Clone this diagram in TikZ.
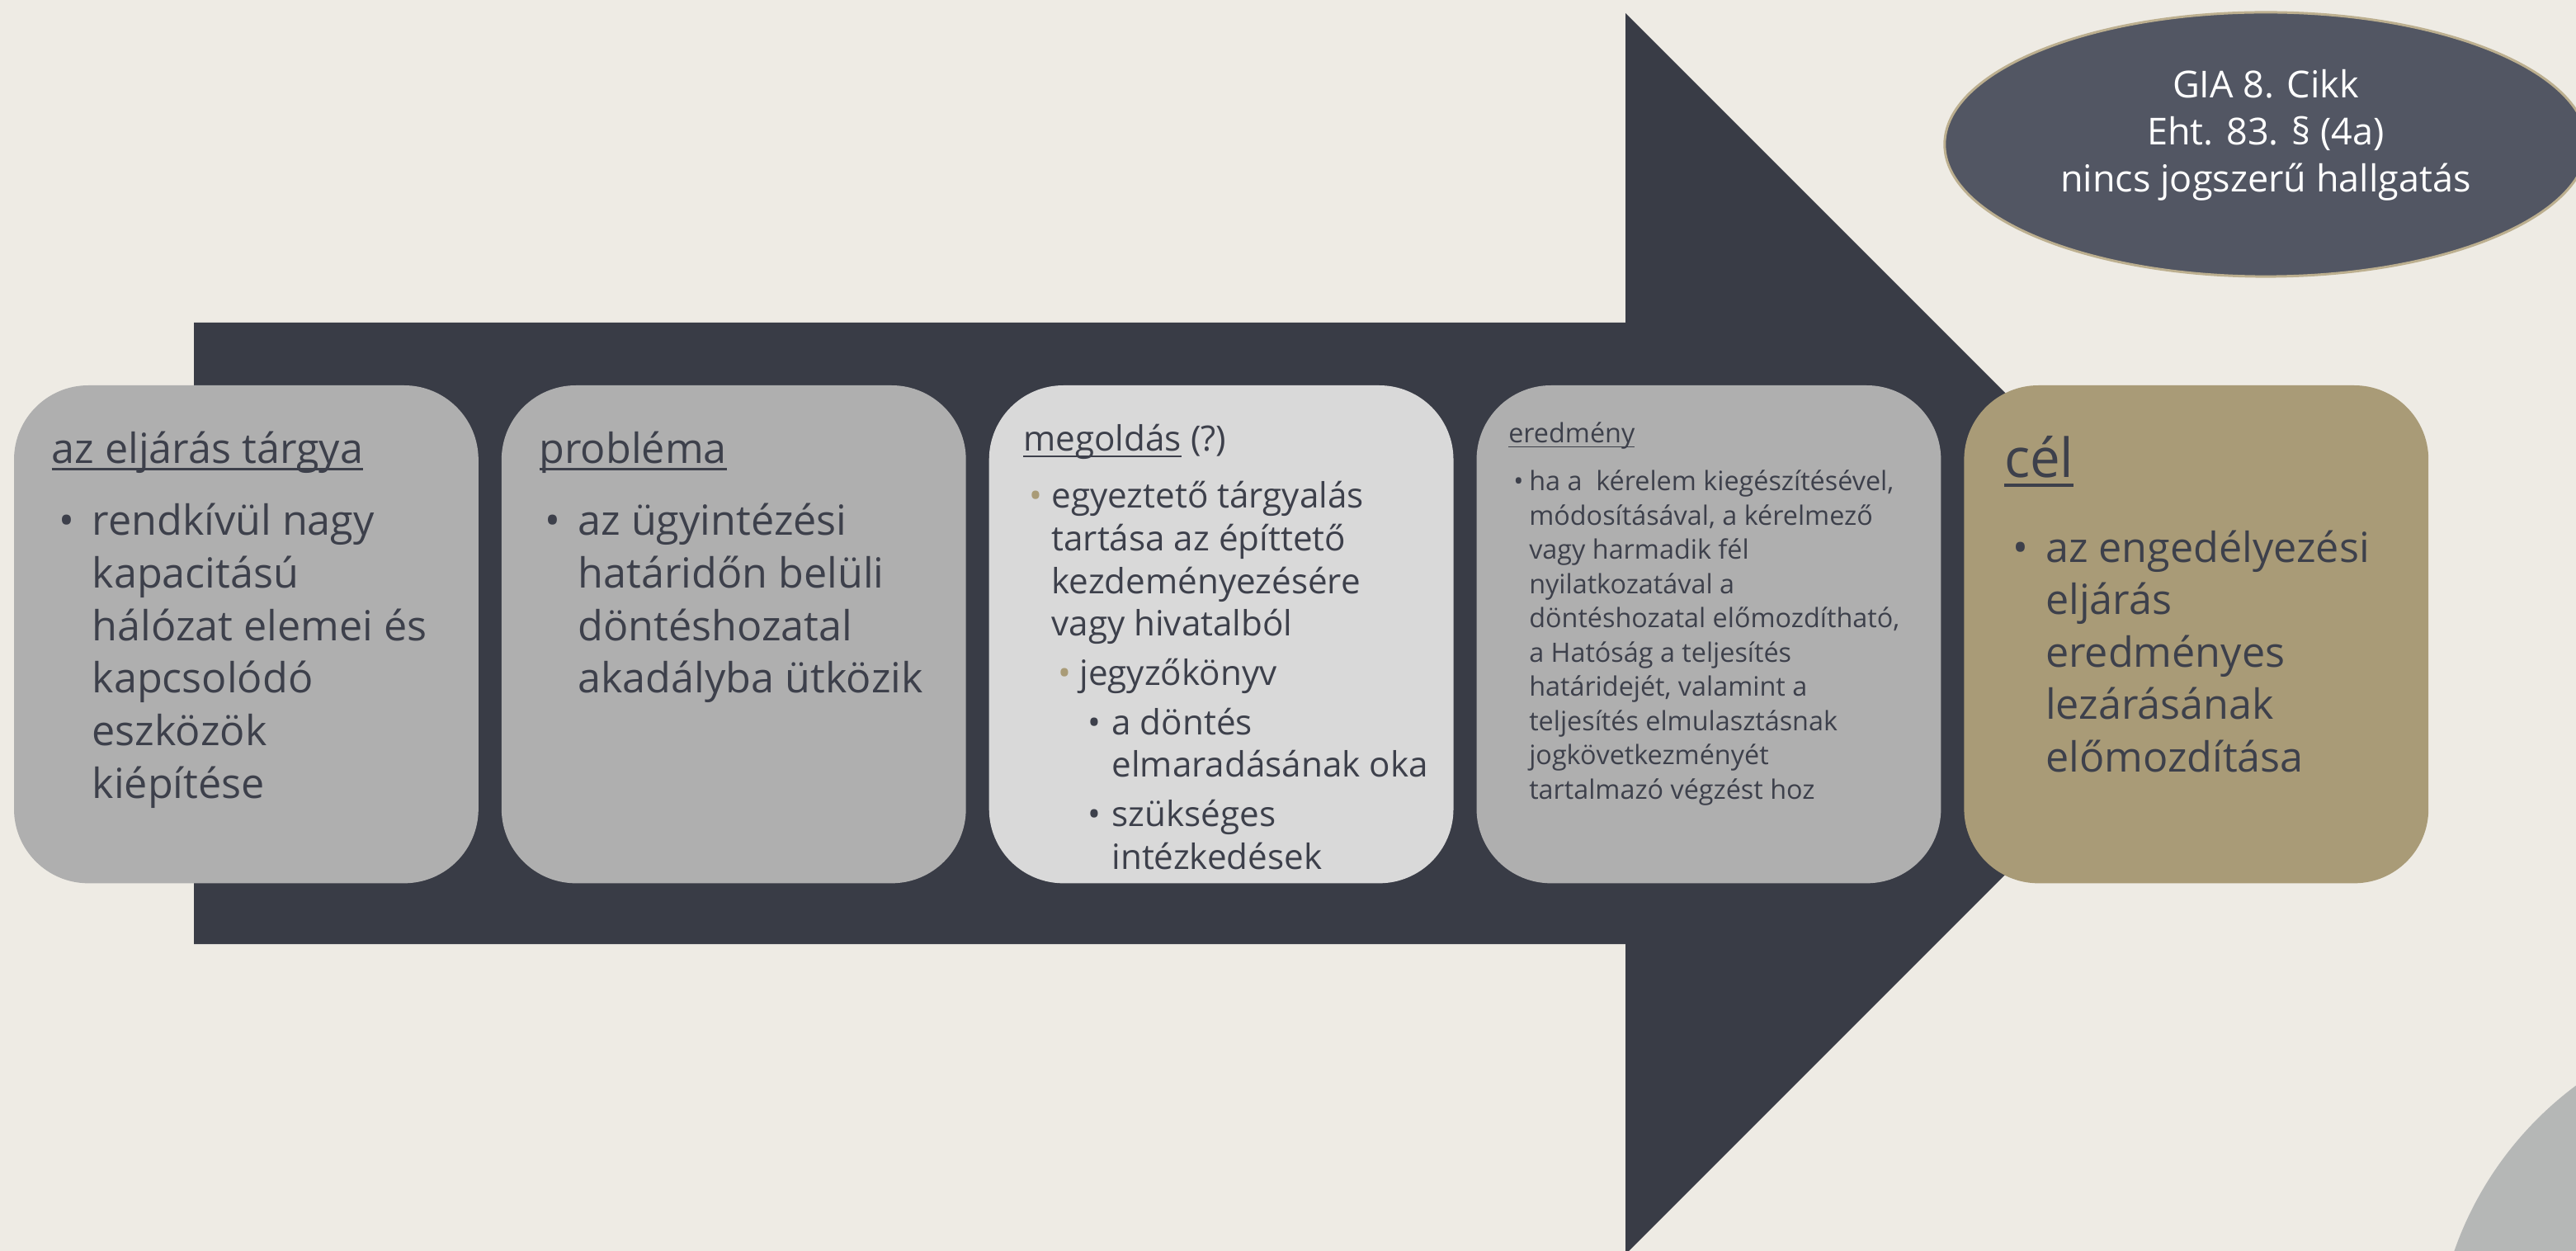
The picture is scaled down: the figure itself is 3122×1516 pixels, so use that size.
\documentclass[tikz,border=0pt]{standalone}
\usepackage{fontspec}
\setmainfont{Open Sans}
\usetikzlibrary{shapes.geometric,positioning}
\definecolor{bgcol}{HTML}{EEEBE4}
\definecolor{arrowcol}{HTML}{393C46}
\definecolor{boxgray}{HTML}{AFAFAF}
\definecolor{boxlight}{HTML}{D9D9D9}
\definecolor{boxtan}{HTML}{A99B77}
\definecolor{txt}{HTML}{3D404B}
\definecolor{notefill}{HTML}{525663}
\definecolor{noteline}{HTML}{BCAF8F}
\definecolor{circcol}{HTML}{B5B7B6}
\tikzset{
    stepbox/.style={rectangle,rounded corners=0.9cm,minimum width=5.625cm,minimum height=6.03cm,inner sep=0pt,outer sep=0pt},
    headtext/.style={anchor=base west,inner sep=0pt,text=txt},
    bodytext/.style={anchor=base west,inner sep=0pt,text=txt},
    lawnote/.style={ellipse,fill=notefill,draw=noteline,line width=0.85pt,minimum width=7.78cm,minimum height=3.2cm,inner sep=0pt},
    lawtext/.style={anchor=base,inner sep=0pt,text=white,font=\fontsize{12.8}{16.1}\selectfont},
}
\newcommand{\undl}[1]{\setbox0=\hbox{#1}\rlap{\rule[-0.17em]{\wd0}{0.06em}}\box0\relax}
% [bullet colour]{left skip}{bullet width}{lines}
\newcommand{\bitem}[4][txt]{\par\noindent\hangindent=\dimexpr#2+#3\relax\hangafter=1\hspace*{#2}\makebox[#3][l]{\textcolor{#1}{\textbullet}}#4}
\newcommand{\bigtxt}{\fontsize{14.3}{18.1}\selectfont}
\newcommand{\midtxt}{\fontsize{12.0}{14.65}\selectfont}
\newcommand{\smalltxt}{\fontsize{9.2}{11.8}\selectfont}

\begin{document}
\begin{tikzpicture}[x=0.01cm,y=-0.01cm]
\useasboundingbox (0,0) rectangle (3122,1516);
\clip (0,0) rectangle (3122,1516);
\fill[bgcol] (0,0) rectangle (3122,1516);
\fill[circcol] (3375,1656) circle (4.24cm);
% the big arrow
\fill[arrowcol] (235,391) -- (1970,391) -- (1970,16) -- (2722,768) -- (1970,1520) -- (1970,1144) -- (235,1144) -- cycle;
\node[lawnote] (law) at (2746,175) {};
\node[lawtext] (lawlines) at ([shift={(0,-56)}]law.center) {\parbox[t]{6cm}{\centering GIA 8. Cikk\\Eht. 83. § (4a)\\nincs jogszerű hallgatás}};

\node[stepbox,fill=boxgray,anchor=north west] (subject) at (17,467) {};
\node[stepbox,fill=boxgray] (problem) [right =0.28cm of subject] {};
\node[stepbox,fill=boxlight] (solution) [right =0.28cm of problem] {};
\node[stepbox,fill=boxgray] (result) [right =0.28cm of solution] {};
\node[stepbox,fill=boxtan] (goal) [right =0.28cm of result] {};

\node[headtext,font=\bigtxt] (subjecthead) at ([shift={(45,94)}]subject.north west) {\undl{az eljárás tárgya}};
\node[bodytext,font=\bigtxt] (subjectbody) at ([shift={(54,182)}]subject.north west) {\parbox[t]{5cm}{\bitem{0pt}{0.40cm}{rendkívül nagy\\kapacitású\\hálózat elemei és\\kapcsolódó\\eszközök\\kiépítése}}};

\node[headtext,font=\bigtxt] (problemhead) at ([shift={(45,94)}]problem.north west) {\undl{probléma}};
\node[bodytext,font=\bigtxt] (problembody) at ([shift={(52,182)}]problem.north west) {\parbox[t]{5cm}{\bitem{0pt}{0.40cm}{az ügyintézési\\határidőn belüli\\döntéshozatal\\akadályba ütközik}}};

\node[headtext,font=\midtxt] (solutionhead) at ([shift={(41,80)}]solution.north west) {\undl{megoldás} (?)};
\node[bodytext,font=\midtxt] (solutionbody) at ([shift={(48,149)}]solution.north west) {\parbox[t]{5cm}{\setlength{\parskip}{2.4pt}%
\bitem[boxtan]{0pt}{0.27cm}{egyeztető tárgyalás\\tartása az építtető\\kezdeményezésére\\vagy hivatalból}
\bitem[boxtan]{0.35cm}{0.26cm}{jegyzőkönyv}
\bitem{0.71cm}{0.29cm}{a döntés\\elmaradásának oka}
\bitem{0.71cm}{0.29cm}{szükséges\\intézkedések}}};

\node[headtext,font=\smalltxt] (resulthead) at ([shift={(38,70)}]result.north west) {\undl{eredmény}};
\node[bodytext,font=\smalltxt] (resultbody) at ([shift={(44,128)}]result.north west) {\parbox[t]{5cm}{\bitem{0pt}{0.19cm}{ha a~ kérelem kiegészítésével,\\módosításával, a kérelmező\\vagy harmadik fél\\nyilatkozatával a\\döntéshozatal előmozdítható,\\a Hatóság a teljesítés\\határidejét, valamint a\\teljesítés elmulasztásnak\\jogkövetkezményét\\tartalmazó végzést hoz}}};

\node[headtext,font=\fontsize{18.6}{22}\selectfont] (goalhead) at ([shift={(48,112)}]goal.north west) {\undl{cél}};
\node[bodytext,font=\bigtxt] (goalbody) at ([shift={(58,214)}]goal.north west) {\parbox[t]{5cm}{\bitem{0pt}{0.40cm}{az engedélyezési\\eljárás\\eredményes\\lezárásának\\előmozdítása}}};
\end{tikzpicture}
\end{document}
